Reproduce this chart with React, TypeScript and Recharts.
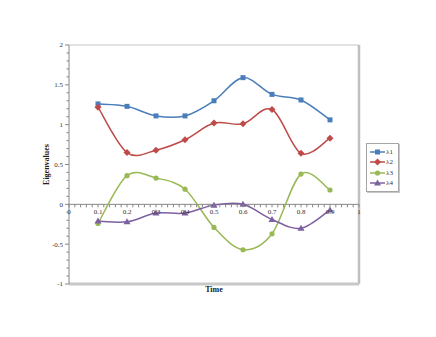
import React from 'react';
import { LineChart, Line, XAxis, YAxis, ReferenceLine, Legend, Label } from 'recharts';

// sample times and the four eigenvalue curves
const times = [0.1, 0.2, 0.3, 0.4, 0.5, 0.6, 0.7, 0.8, 0.9];
const lambda1 = [1.26, 1.23, 1.11, 1.11, 1.3, 1.59, 1.38, 1.31, 1.06];
const lambda2 = [1.22, 0.65, 0.68, 0.81, 1.02, 1.01, 1.19, 0.64, 0.83];
const lambda3 = [-0.24, 0.36, 0.33, 0.19, -0.29, -0.57, -0.37, 0.38, 0.18];
const lambda4 = [-0.21, -0.22, -0.11, -0.11, -0.01, 0.0, -0.19, -0.3, -0.07];

const xLabels = [0, 0.1, 0.2, 0.3, 0.4, 0.5, 0.6, 0.7, 0.8, 0.9, 1];
const yLabels = [-1, -0.5, 0, 0.5, 1, 1.5, 2];
const xTicks = Array.from({ length: 51 }, (_, i) => Math.round(i * 2) / 100);
const yTicks = Array.from({ length: 31 }, (_, i) => Math.round(i * 10 - 100) / 100);

const series = [
  { key: 'l1', name: 'λ1', color: '#4A7EBB', shape: 'square', values: lambda1 },
  { key: 'l2', name: 'λ2', color: '#BE4B48', shape: 'diamond', values: lambda2 },
  { key: 'l3', name: 'λ3', color: '#98B954', shape: 'circle', values: lambda3 },
  { key: 'l4', name: 'λ4', color: '#7D60A0', shape: 'triangle', values: lambda4 },
];

const data = times.map((t, i) => {
  const row: any = { time: t };
  series.forEach(s => {
    row[s.key] = s.values[i];
  });
  return row;
});

const W = 436;
const H = 337;
const MARGIN = { top: 45, right: 77, bottom: 43, left: 39 };
const X_AXIS_H = 10;
const Y_AXIS_W = 30;
const PLOT_H = H - MARGIN.top - MARGIN.bottom - X_AXIS_H;
const Y_MIN = -1;
const Y_MAX = 2;
const FONT = '"Liberation Serif", "DejaVu Serif", serif';
const AXIS_GREY = '#868686';

// excel-like smoothed line (bezier through points, 1/6 tangent)
function excelCurve(context: any) {
  let pts: number[][] = [];
  return {
    areaStart() {},
    areaEnd() {},
    lineStart() {
      pts = [];
    },
    point(x: number, y: number) {
      pts.push([+x, +y]);
    },
    lineEnd() {
      if (!pts.length) return;
      context.moveTo(pts[0][0], pts[0][1]);
      for (let i = 0; i < pts.length - 1; i++) {
        const p0 = pts[i - 1] || pts[i];
        const p1 = pts[i];
        const p2 = pts[i + 1];
        const p3 = pts[i + 2] || pts[i + 1];
        context.bezierCurveTo(
          p1[0] + (p2[0] - p0[0]) / 6,
          p1[1] + (p2[1] - p0[1]) / 6,
          p2[0] - (p3[0] - p1[0]) / 6,
          p2[1] - (p3[1] - p1[1]) / 6,
          p2[0],
          p2[1]
        );
      }
    },
  };
}

function marker(shape: string, cx: number, cy: number, color: string, key?: string) {
  if (shape === 'square') {
    return <rect key={key} x={cx - 2.5} y={cy - 2.5} width={5} height={5} fill={color} />;
  }
  if (shape === 'diamond') {
    return <polygon key={key} points={`${cx},${cy - 3.5} ${cx + 3.5},${cy} ${cx},${cy + 3.5} ${cx - 3.5},${cy}`} fill={color} />;
  }
  if (shape === 'circle') {
    return <circle key={key} cx={cx} cy={cy} r={2.6} fill={color} />;
  }
  return <polygon key={key} points={`${cx},${cy - 3.5} ${cx + 3.5},${cy + 2.5} ${cx - 3.5},${cy + 2.5}`} fill={color} />;
}

const isLabel = (v: number, list: number[]) => list.some(l => Math.abs(l - v) < 1e-6);

function XTick(props: any) {
  const { x, y, payload } = props;
  const v = payload.value;
  // the x axis crosses at value 0
  const zeroY = y - (PLOT_H * (0 - Y_MIN)) / (Y_MAX - Y_MIN);
  const major = isLabel(v, xLabels);
  return (
    <g>
      <line x1={x} x2={x} y1={zeroY} y2={zeroY + 3} stroke={AXIS_GREY} strokeWidth={1} />
      {major && (
        <text x={x} y={zeroY + 10} textAnchor="middle" fontSize={7} fontFamily={FONT} fill="#333">
          {String(v)}
        </text>
      )}
    </g>
  );
}

function YTick(props: any) {
  const { x, y, payload } = props;
  const v = payload.value;
  const major = isLabel(v, yLabels);
  return (
    <g>
      <line x1={x} x2={x - (major ? 4 : 2.5)} y1={y} y2={y} stroke={AXIS_GREY} strokeWidth={1} />
      {major && (
        <text x={x - 6} y={y} dy="0.35em" textAnchor="end" fontSize={7} fontFamily={FONT} fill="#333">
          {String(v)}
        </text>
      )}
    </g>
  );
}

function LegendBox() {
  return (
    <div
      style={{
        width: 33,
        height: 49,
        border: '1px solid #a6a6a6',
        boxShadow: '1px 1px 0 #c8c8c8',
        background: 'white',
        boxSizing: 'border-box',
        padding: '3px 0 0 3px',
        fontFamily: FONT,
        fontSize: 7,
        color: '#333',
      }}
    >
      {series.map(s => (
        <div key={s.key} style={{ display: 'flex', alignItems: 'center', height: 10.3 }}>
          <svg width={15} height={8} style={{ display: 'block' }}>
            <line x1={0} x2={15} y1={4} y2={4} stroke={s.color} strokeWidth={1.5} />
            {marker(s.shape, 7.5, 4, s.color)}
          </svg>
          <span style={{ marginLeft: 1 }}>{s.name}</span>
        </div>
      ))}
    </div>
  );
}

export default function App() {
  return (
    <div style={{ position: 'absolute', left: 0, top: 0, width: W, height: H, background: 'white' }}>
      <LineChart width={W} height={H} data={data} margin={MARGIN}>
        <XAxis
          dataKey="time"
          type="number"
          domain={[0, 1]}
          ticks={xTicks}
          interval={0}
          height={X_AXIS_H}
          axisLine={false}
          tickLine={false}
          tickSize={0}
          tickMargin={0}
          tick={<XTick />}
        >
          <Label
            content={(p: any) => {
              const vb = p.viewBox;
              return (
                <text x={vb.x + vb.width / 2} y={vb.y + 8} textAnchor="middle" fontSize={8} fontWeight="bold" fontFamily={FONT} fill="#222">
                  Time
                </text>
              );
            }}
          />
        </XAxis>
        <YAxis
          type="number"
          domain={[Y_MIN, Y_MAX]}
          ticks={yTicks}
          interval={0}
          width={Y_AXIS_W}
          axisLine={{ stroke: AXIS_GREY }}
          tickLine={false}
          tickSize={0}
          tickMargin={0}
          tick={<YTick />}
        >
          <Label
            content={(p: any) => {
              const vb = p.viewBox;
              const cx = vb.x + 10;
              const cy = vb.y + vb.height / 2;
              return (
                <text x={cx} y={cy} transform={`rotate(-90 ${cx} ${cy})`} textAnchor="middle" fontSize={8} fontWeight="bold" fontFamily={FONT} fill="#222">
                  Eigenvalues
                </text>
              );
            }}
          />
        </YAxis>
        <ReferenceLine y={Y_MAX} stroke="#c6c6c6" strokeWidth={1} />
        <ReferenceLine x={1} stroke="#bfbfbf" strokeWidth={2.5} />
        <ReferenceLine y={Y_MIN} stroke="#c8c8c8" strokeWidth={3} />
        <ReferenceLine y={0} stroke={AXIS_GREY} strokeWidth={1} />
        <Legend
          layout="vertical"
          align="center"
          verticalAlign="middle"
          wrapperStyle={{ left: 366, top: 143, width: 34 }}
          content={() => <LegendBox />}
        />
        {series.map(s => (
          <Line
            key={s.key}
            dataKey={s.key}
            name={s.name}
            type={excelCurve as any}
            stroke={s.color}
            strokeWidth={1.5}
            dot={(p: any) => marker(s.shape, p.cx, p.cy, s.color, `${s.key}-${p.index}`)}
            activeDot={false}
            isAnimationActive={false}
          />
        ))}
      </LineChart>
    </div>
  );
}
